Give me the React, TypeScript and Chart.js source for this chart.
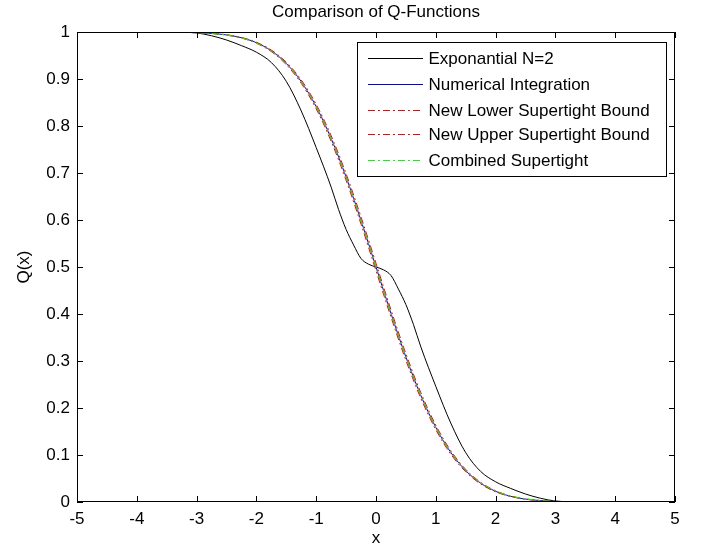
import React, { useEffect, useRef } from 'react';
import { Chart, registerables } from 'chart.js';

Chart.register(...registerables);

const titleText = 'Comparison of Q-Functions';
const xLabel = 'x';
const yLabel = 'Q(x)';
const xTicks = [-5, -4, -3, -2, -1, 0, 1, 2, 3, 4, 5];
const yTicks = [0, 0.1, 0.2, 0.3, 0.4, 0.5, 0.6, 0.7, 0.8, 0.9, 1];

const seriesLabels = [
  'Exponantial N=2',
  'Numerical Integration',
  'New Lower Supertight Bound',
  'New Upper Supertight Bound',
  'Combined Supertight',
];
const seriesColors = ['#000000', '#0000ff', '#ff0000', '#ff0000', '#00ff00'];
const DASH = [7, 3, 2, 3];
const seriesDashes = [[], [], DASH, DASH, DASH];
const legendRowsY = [58, 84, 110, 134, 160];

const qX = [
  -5, -4.75, -4.5, -4.25, -4, -3.75, -3.5, -3.25, -3, -2.75, -2.5, -2.25, -2, -1.75, -1.5, -1.25, -1, -0.75, -0.5, -0.25,
  0, 0.25, 0.5, 0.75, 1, 1.25, 1.5, 1.75, 2, 2.25, 2.5, 2.75, 3, 3.25, 3.5, 3.75, 4, 4.25, 4.5, 4.75, 5,
];

const numericalQ = [
  1, 1, 1, 1, 1, 0.9999, 0.9998, 0.9994, 0.9987, 0.997, 0.9938, 0.9878, 0.9772, 0.9599, 0.9332, 0.8944, 0.8413, 0.7734, 0.6915, 0.5987,
  0.5, 0.4013, 0.3085, 0.2266, 0.1587, 0.1056, 0.0668, 0.0401, 0.0228, 0.0122, 0.0062, 0.003, 0.0013, 0.0006, 0.0002, 0.0001, 0, 0, 0, 0, 0,
];

const lowerQ = [
  1, 1, 1, 1, 1, 0.9999, 0.9997, 0.9993, 0.9986, 0.9968, 0.9934, 0.9872, 0.9761, 0.9582, 0.9306, 0.8907, 0.8365, 0.7674, 0.6845, 0.591,
  0.492, 0.3936, 0.3015, 0.2206, 0.1539, 0.1019, 0.0642, 0.0384, 0.0217, 0.0116, 0.0058, 0.0027, 0.0012, 0.0005, 0.0002, 0.0001, 0, 0, 0, 0, 0,
];

const upperQ = [
  1, 1, 1, 1, 1, 1, 0.9999, 0.9995, 0.9988, 0.9972, 0.9942, 0.9884, 0.9783, 0.9616, 0.9358, 0.8981, 0.8461, 0.7794, 0.6985, 0.6064,
  0.508, 0.409, 0.3155, 0.2326, 0.1635, 0.1093, 0.0694, 0.0418, 0.0239, 0.0128, 0.0066, 0.0033, 0.0014, 0.0007, 0.0002, 0.0001, 0, 0, 0, 0, 0,
];

const combinedQ = [
  1, 1, 1, 1, 1, 0.9999, 0.9998, 0.9993, 0.9986, 0.9968, 0.9935, 0.9874, 0.9767, 0.9594, 0.9327, 0.8939, 0.8409, 0.7731, 0.6913, 0.5986,
  0.5, 0.4014, 0.3087, 0.2269, 0.1591, 0.1061, 0.0673, 0.0406, 0.0233, 0.0126, 0.0065, 0.0032, 0.0014, 0.0007, 0.0002, 0.0001, 0, 0, 0, 0, 0,
];

const expX = [
  -5, -4.75, -4.5, -4.25, -4, -3.75, -3.5, -3.25, -3, -2.75, -2.5, -2.25, -2, -1.75, -1.5, -1.25, -1, -0.75, -0.625, -0.5, -0.375, -0.25, -0.125,
  0, 0.125, 0.25, 0.375, 0.5, 0.625, 0.75, 1, 1.25, 1.5, 1.75, 2, 2.25, 2.5, 2.75, 3, 3.25, 3.5, 3.75, 4, 4.25, 4.5, 4.75, 5,
];

const expQ = [
  1, 1, 1, 1, 1, 1, 1, 0.9995, 0.998, 0.992, 0.983, 0.971, 0.957, 0.935, 0.895, 0.832, 0.754, 0.67, 0.622, 0.58, 0.547, 0.518, 0.506,
  0.5, 0.494, 0.482, 0.453, 0.42, 0.378, 0.33, 0.246, 0.168, 0.105, 0.065, 0.043, 0.029, 0.017, 0.008, 0.002, 0.0005, 0, 0, 0, 0, 0, 0, 0,
];

const FONT = '"Liberation Sans", Arial, sans-serif';
const FS = 17;

const toPts = (xs: number[], ys: number[]) => xs.map((x, i) => ({ x, y: ys[i] }));

const decorPlugin = {
  id: 'decor',
  afterDatasetsDraw(chart: any) {
    const { ctx, chartArea } = chart;
    const { left, right, top, bottom } = chartArea;
    const xs = chart.scales.x;
    const ys = chart.scales.y;
    ctx.save();
    ctx.strokeStyle = '#000';
    ctx.lineWidth = 1;
    ctx.setLineDash([]);
    ctx.strokeRect(left + 0.5, top + 0.5, right - left - 1, bottom - top - 1);
    const tl = 6;
    ctx.beginPath();
    for (const v of xTicks) {
      const px = Math.round(xs.getPixelForValue(v)) + 0.5;
      ctx.moveTo(px, bottom);
      ctx.lineTo(px, bottom - tl);
      ctx.moveTo(px, top);
      ctx.lineTo(px, top + tl);
    }
    for (const v of yTicks) {
      const py = Math.round(ys.getPixelForValue(v)) + 0.5;
      ctx.moveTo(left, py);
      ctx.lineTo(left + tl, py);
      ctx.moveTo(right, py);
      ctx.lineTo(right - tl, py);
    }
    ctx.stroke();

    // title
    ctx.fillStyle = '#000';
    ctx.font = `${FS}px ${FONT}`;
    ctx.textAlign = 'center';
    ctx.textBaseline = 'middle';
    ctx.fillText(titleText, (left + right) / 2, 12);

    // legend
    const bx = 357.5, by = 42.5, bw = 309, bh = 134;
    ctx.fillStyle = '#fff';
    ctx.fillRect(bx, by, bw, bh);
    ctx.strokeStyle = '#000';
    ctx.strokeRect(bx, by, bw, bh);
    const x0 = 368, x1 = 423;
    seriesLabels.forEach((label, i) => {
      const y = legendRowsY[i];
      ctx.fillStyle = seriesColors[i];
      const dash = seriesDashes[i];
      if (!dash.length) {
        ctx.fillRect(x0, y, x1 - x0, 1);
      } else {
        let x = x0;
        let k = 0;
        while (x < x1) {
          const seg = dash[k % dash.length];
          if (k % 2 === 0) ctx.fillRect(x, y, Math.min(seg, x1 - x), 1);
          x += seg;
          k++;
        }
      }
      ctx.fillStyle = '#000';
      ctx.textAlign = 'left';
      ctx.textBaseline = 'middle';
      ctx.fillText(label, 428.5, y + 1.5);
    });
    ctx.restore();
  },
};

export default function App() {
  const ref = useRef<HTMLCanvasElement | null>(null);
  useEffect(() => {
    document.body.style.margin = '0';
    const canvas = ref.current;
    if (!canvas) return;
    const series = [
      toPts(expX, expQ),
      toPts(qX, numericalQ),
      toPts(qX, lowerQ),
      toPts(qX, upperQ),
      toPts(qX, combinedQ),
    ];
    const chart = new Chart(canvas, {
      type: 'line',
      data: {
        datasets: series.map((data, i) => ({
          label: seriesLabels[i],
          data,
          borderColor: seriesColors[i],
          backgroundColor: seriesColors[i],
          borderWidth: 1,
          borderDash: seriesDashes[i],
          pointRadius: 0,
          fill: false,
          cubicInterpolationMode: 'monotone',
          order: 5 - i,
        })),
      } as any,
      options: {
        responsive: false,
        animation: false,
        layout: { padding: { left: 0, right: 27, top: 32, bottom: 0 } },
        plugins: { legend: { display: false }, tooltip: { enabled: false }, title: { display: false }, colors: { enabled: false } },
        scales: {
          x: {
            type: 'linear',
            min: -5,
            max: 5,
            afterBuildTicks: (s: any) => { s.ticks = xTicks.map((v) => ({ value: v })); },
            afterFit: (s: any) => { s.height = 49; },
            grid: { display: false, drawTicks: false },
            border: { display: false },
            ticks: { color: '#000', padding: 7, maxRotation: 0, font: { family: FONT, size: FS } },
            title: { display: true, text: xLabel, color: '#000', padding: { top: 0, bottom: 2 }, font: { family: FONT, size: FS } },
          },
          y: {
            type: 'linear',
            min: 0,
            max: 1,
            afterBuildTicks: (s: any) => { s.ticks = yTicks.map((v) => ({ value: v })); },
            afterFit: (s: any) => { s.width = 77; },
            grid: { display: false, drawTicks: false },
            border: { display: false },
            ticks: { color: '#000', padding: 7, font: { family: FONT, size: FS }, callback: (v: any) => String(Math.round(Number(v) * 10) / 10) },
            title: { display: true, text: yLabel, color: '#000', padding: { top: 14, bottom: 0 }, font: { family: FONT, size: FS } },
          },
        },
      } as any,
      plugins: [decorPlugin],
    });
    return () => chart.destroy();
  }, []);
  return (
    <div style={{ width: 702, height: 551 }}>
      <canvas ref={ref} width={702} height={551} style={{ display: 'block' }} />
    </div>
  );
}
